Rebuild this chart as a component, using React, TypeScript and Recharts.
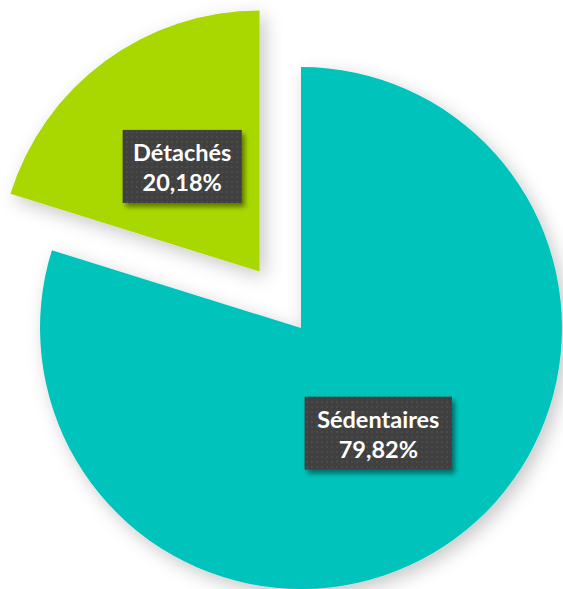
import { PieChart, Pie, Cell } from "recharts";

/**
 * Répartition du personnel : Détachés / Sédentaires
 * Camembert avec la part "Détachés" éclatée vers le haut-gauche
 */

// 🔹 Données
const categories = ["Détachés", "Sédentaires"];
const values = [20.18, 79.82];
const colors = ["#A9D800", "#00C4BB"];

const data = categories.map((name, i) => ({ name, value: values[i] }));

// géométrie
const CX = 301;
const CY = 328;
const RADIUS = 261;
const EXPLODE = 70;

const total = values.reduce((a, b) => a + b, 0);
// angle milieu de la part éclatée (startAngle = 90, sens anti-horaire)
const explodedMid = 90 + (values[0] / total) * 360 / 2;
const RAD = Math.PI / 180;
const EX_CX = CX + EXPLODE * Math.cos(explodedMid * RAD);
const EX_CY = CY - EXPLODE * Math.sin(explodedMid * RAD);

const formatPct = (v: number) => v.toFixed(2).replace(".", ",") + "%";

function makeLabel(showIndex: number) {
  return (props: any) => {
    const { cx, cy, midAngle, outerRadius, index, name, value } = props;
    if (index !== showIndex) return null;
    const r = outerRadius * 0.5;
    const x = cx + r * Math.cos(-midAngle * RAD);
    const y = cy + r * Math.sin(-midAngle * RAD);
    const w = 44 + String(name).length * 9.4;
    const h = 73;
    return (
      <g>
        <rect
          x={x - w / 2}
          y={y - h / 2}
          width={w}
          height={h}
          fill="url(#dots)"
          filter="url(#boxShadow)"
        />
        <text
          x={x}
          y={y - 14}
          textAnchor="middle"
          dominantBaseline="central"
          fill="#ffffff"
          fontFamily="Lato, 'Open Sans', sans-serif"
          fontWeight={700}
          fontSize={23.5}
        >
          {name}
        </text>
        <text
          x={x}
          y={y + 16}
          textAnchor="middle"
          dominantBaseline="central"
          fill="#ffffff"
          fontFamily="Lato, 'Open Sans', sans-serif"
          fontWeight={700}
          fontSize={23.5}
        >
          {formatPct(value)}
        </text>
      </g>
    );
  };
}

export default function App() {
  return (
    <div
      style={{
        position: "absolute",
        left: 0,
        top: 0,
        width: 563,
        height: 589,
        background: "#ffffff",
        overflow: "hidden",
      }}
    >
      {/* filtres et motifs partagés */}
      <svg width={0} height={0} style={{ position: "absolute" }}>
        <defs>
          <filter id="pieShadow" x="-20%" y="-20%" width="140%" height="140%">
            <feDropShadow dx="5" dy="6" stdDeviation="9" floodColor="#000" floodOpacity="0.22" />
          </filter>
          <filter id="boxShadow" x="-20%" y="-20%" width="140%" height="140%">
            <feDropShadow dx="3" dy="4" stdDeviation="2.5" floodColor="#000" floodOpacity="0.45" />
          </filter>
          <pattern id="dots" width="5" height="5" patternUnits="userSpaceOnUse">
            <rect width="5" height="5" fill="#3f3f3f" />
            <rect x="1" y="1" width="2" height="2" fill="#4b4b4b" />
          </pattern>
        </defs>
      </svg>

      <PieChart width={563} height={589} margin={{ top: 0, right: 0, bottom: 0, left: 0 }}>
        {/* Sédentaires */}
        <Pie
          data={data}
          dataKey="value"
          nameKey="name"
          cx={CX}
          cy={CY}
          outerRadius={RADIUS}
          startAngle={90}
          endAngle={450}
          stroke="none"
          labelLine={false}
          label={makeLabel(1)}
          isAnimationActive={false}
        >
          {data.map((d, i) => (
            <Cell
              key={d.name}
              fill={i === 1 ? colors[i] : "none"}
              filter={i === 1 ? "url(#pieShadow)" : undefined}
            />
          ))}
        </Pie>

        {/* Détachés (éclatée) */}
        <Pie
          data={data}
          dataKey="value"
          nameKey="name"
          cx={EX_CX}
          cy={EX_CY}
          outerRadius={RADIUS}
          startAngle={90}
          endAngle={450}
          stroke="none"
          labelLine={false}
          label={makeLabel(0)}
          isAnimationActive={false}
        >
          {data.map((d, i) => (
            <Cell
              key={d.name}
              fill={i === 0 ? colors[i] : "none"}
              filter={i === 0 ? "url(#pieShadow)" : undefined}
            />
          ))}
        </Pie>
      </PieChart>
    </div>
  );
}
